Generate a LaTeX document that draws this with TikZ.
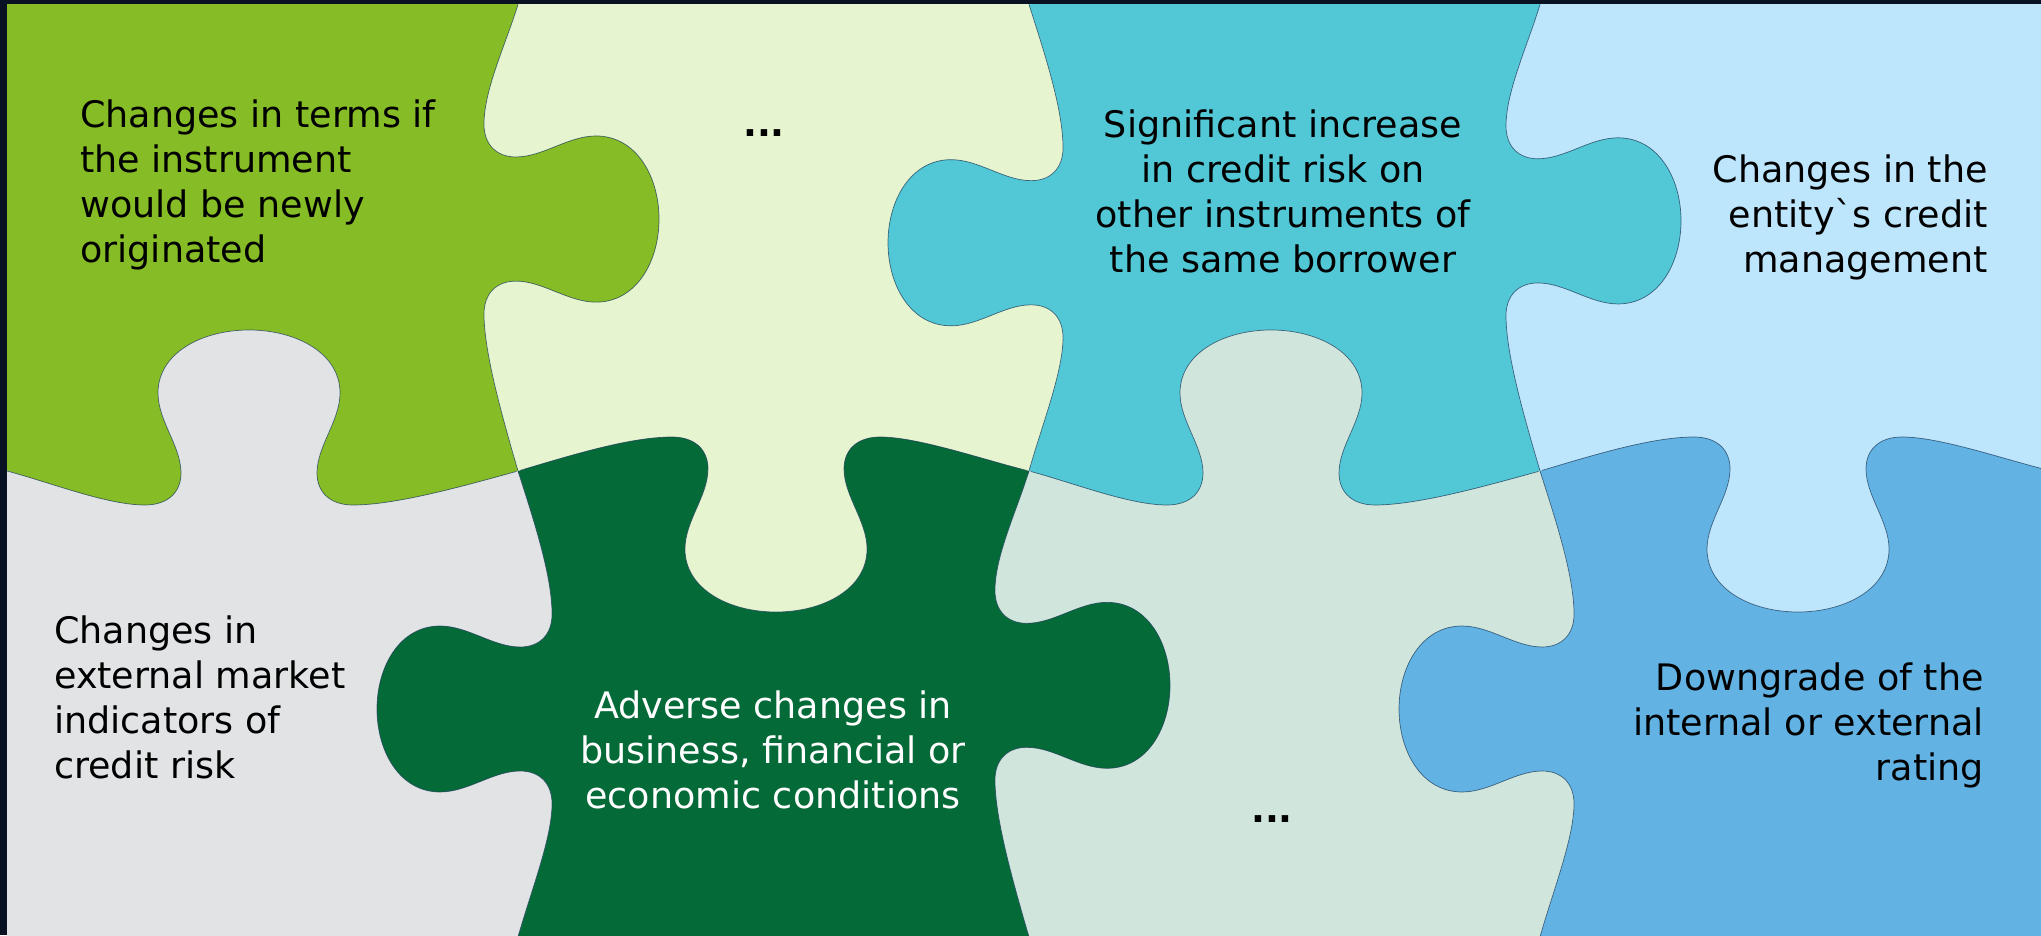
\documentclass[tikz,border=0pt]{standalone}
\usepackage{fontspec}
\setmainfont{DejaVu Sans}
\usepackage{tikz}

\definecolor{pzbg}{RGB}{8,18,34}
\definecolor{pzgreen}{RGB}{134,188,37}
\definecolor{pzlight}{RGB}{230,245,208}
\definecolor{pzcyan}{RGB}{82,200,214}
\definecolor{pzsky}{RGB}{189,229,252}
\definecolor{pzgray}{RGB}{225,227,229}
\definecolor{pzdark}{RGB}{4,106,56}
\definecolor{pzpale}{RGB}{208,230,220}
\definecolor{pzblue}{RGB}{98,179,228}
\definecolor{pzseam}{RGB}{30,60,90}

% one puzzle edge from (0,0) to (511,0), knob on the left side, moved by \ks
\newcommand{\jointpath}{(0,0) .. controls ({45+0.3*\ks},-12) and ({100+\ks},-34) .. ({138+\ks},-34)
  .. controls ({160+\ks},-34) and ({174+\ks},-22) .. ({174+\ks},-2)
  .. controls ({174+\ks},25) and ({151+\ks},50) .. ({151+\ks},78)
  .. controls ({151+\ks},118) and ({195+\ks},141) .. ({242+\ks},141)
  .. controls ({289+\ks},141) and ({333+\ks},118) .. ({333+\ks},78)
  .. controls ({333+\ks},50) and ({310+\ks},25) .. ({310+\ks},-2)
  .. controls ({310+\ks},-22) and ({324+\ks},-34) .. ({346+\ks},-34)
  .. controls ({390+\ks},-34) and ({460+0.3*\ks},-14) .. (511,0)}

% #1 start, #2 angle, #3 length factor, #4 knob owner, #5 other piece, #6 knob shift
\newcommand{\joint}[6]{%
  \begin{scope}[shift={#1}, rotate=#2, xscale=#3]
    \def\ks{#6}
    \begin{scope}
      \clip (-2,-60) rectangle (513,1.5);
      \fill[#5] \jointpath -- (511,3) -- (0,3) -- cycle;
    \end{scope}
    \begin{scope}
      \clip (-2,-1.5) rectangle (513,160);
      \fill[#4] \jointpath -- (511,-3) -- (0,-3) -- cycle;
    \end{scope}
    \draw[seam] \jointpath;
  \end{scope}}

\begin{document}
\begin{tikzpicture}[
    x=1pt, y=1pt,
    piecetext/.style={font=\fontsize{36.5}{45}\selectfont, inner sep=0pt},
    dots/.style={font=\fontsize{36.5}{45}\selectfont\bfseries, inner sep=0pt, anchor=base},
    seam/.style={draw=pzseam, line width=0.7pt, draw opacity=0.75}
]
\useasboundingbox (0,0) rectangle (2041,935);
\fill[pzbg] (0,0) rectangle (2041,935);

\begin{scope}
\clip (7,0) rectangle (2041,930.5);

% Base cells, two rows of four
\foreach \c [count=\i from 0] in {pzgreen,pzlight,pzcyan,pzsky}
  \fill[\c] ({7+511*\i},464) rectangle ({518+511*\i},932);
\foreach \c [count=\i from 0] in {pzgray,pzdark,pzpale,pzblue}
  \fill[\c] ({7+511*\i},-2) rectangle ({518+511*\i},464);

% Joints between the rows
\joint{(7,464)}{0}{1}{pzgray}{pzgreen}{0}
\joint{(1029,464)}{180}{1}{pzlight}{pzdark}{11}
\joint{(1029,464)}{0}{1}{pzpale}{pzcyan}{0}
\joint{(2051,464)}{180}{1}{pzsky}{pzblue}{11}

% Joints in the top row
\joint{(518,930.5)}{-90}{0.913}{pzgreen}{pzlight}{-7}
\joint{(1029,464)}{90}{0.913}{pzcyan}{pzlight}{8}
\joint{(1540,930.5)}{-90}{0.913}{pzcyan}{pzsky}{-5}

% Joints in the bottom row
\joint{(518,-2)}{90}{0.912}{pzdark}{pzgray}{8}
\joint{(1029,464)}{-90}{0.912}{pzdark}{pzpale}{-7}
\joint{(1540,-2)}{90}{0.912}{pzblue}{pzpale}{8}
\end{scope}

% Texts on the pieces (base = last line)
\node[piecetext, anchor=base west, align=left] (terms) at (80,672)
  {Changes in terms if\\the instrument\\would be newly\\originated};
\node[dots] (more1) at (764,798) {...};
\node[piecetext, anchor=base, align=center] (borrower) at (1283,662)
  {Significant increase\\in credit risk on\\other instruments of\\the same borrower};
\node[piecetext, anchor=base east, align=right] (management) at (1988,662)
  {Changes in the\\entityˋs credit\\management};
\node[piecetext, anchor=base west, align=left] (market) at (54,157)
  {Changes in\\external market\\indicators of\\credit risk};
\node[piecetext, anchor=base, align=center, text=white] (adverse) at (773,127)
  {Adverse changes in\\business, financial or\\economic conditions};
\node[dots] (more2) at (1272,113) {...};
\node[piecetext, anchor=base east, align=right] (rating) at (1984,155)
  {Downgrade of the\\internal or external\\rating};
\end{tikzpicture}
\end{document}
